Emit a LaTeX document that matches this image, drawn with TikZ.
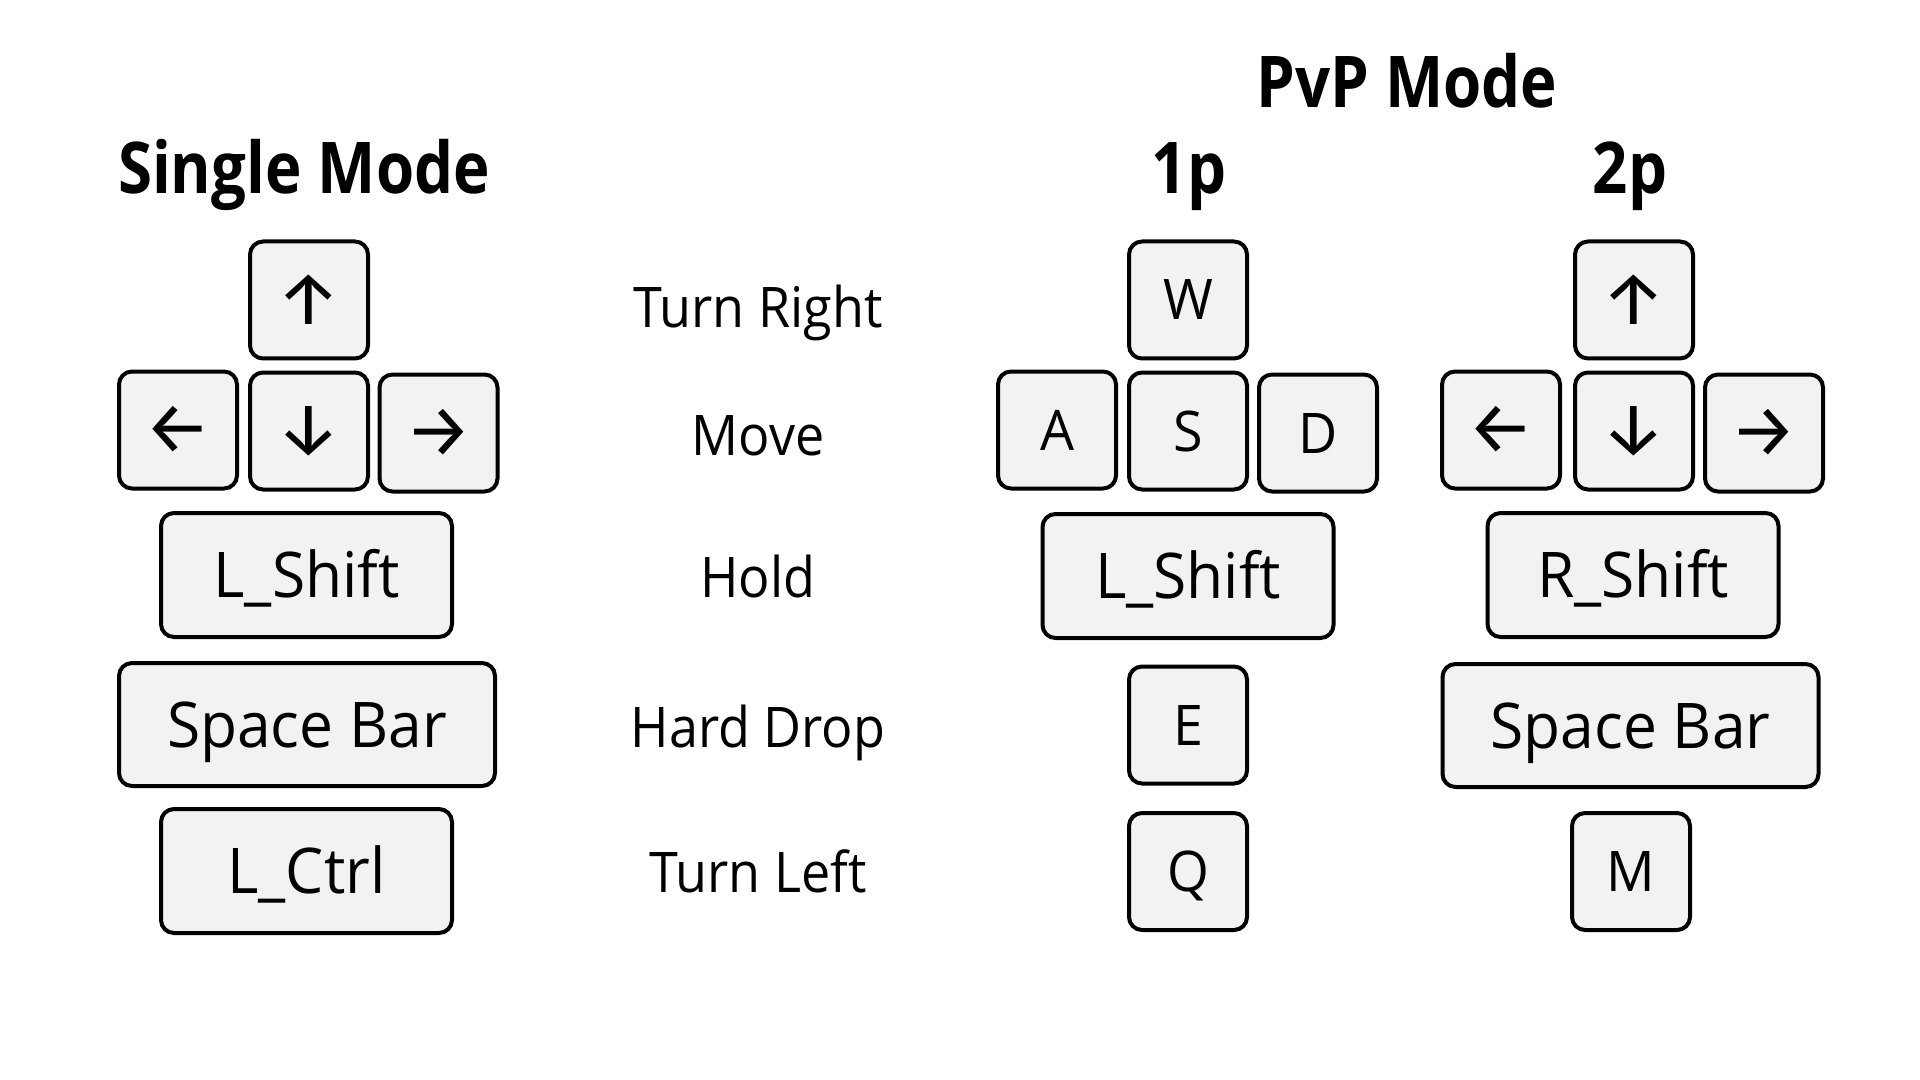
\documentclass[tikz,border=0pt]{standalone}
\usepackage{fontspec}
\setmainfont{Open Sans}
\newfontfamily\keyfont[FakeStretch=0.96]{Open Sans}
\newfontfamily\labelfont[FakeStretch=0.93]{Open Sans}
\newfontfamily\titlefont[FakeStretch=0.865]{Open Sans Bold}
\newfontfamily\arrowfont{Fira Sans}
\tikzset{
  x=0.5pt, y=-0.5pt,
  keycap/.style={draw=black, line width=2pt, fill=gray!10, rounded corners=6.5pt,
    inner sep=0pt, align=center, text height=22.5pt, text depth=0pt,
    font=\keyfont\fontsize{31.5}{38}\selectfont},
  sq/.style={keycap, minimum width=59pt, minimum height=58.5pt,
    text height=20pt, font=\keyfont\fontsize{28}{34}\selectfont},
  arr/.style={sq, text height=, text depth=, font=\arrowfont\fontsize{37}{42}\selectfont},
  wide/.style={keycap, minimum width=145.5pt, minimum height=62pt},
  bar/.style={keycap, minimum width=188pt, minimum height=61.5pt},
  title/.style={anchor=base, inner sep=0pt, font=\titlefont\fontsize{35.7}{42}\selectfont},
  action/.style={anchor=base, inner sep=0pt, font=\labelfont\fontsize{28}{34}\selectfont}
}
\begin{document}
\begin{tikzpicture}
\useasboundingbox[fill=white] (0,0) rectangle (1920,1080);
% titles
\node[title] (tsingle) at (304,194) {Single Mode};
\node[title] (tpvp) at (1407,108) {PvP Mode};
\node[title] (t1p) at (1189,194) {1p};
\node[title] (t2p) at (1630,194) {2p};
% single mode keys
\node[arr] (s-up) at (309,300) {↑};
\node[arr] (s-left) at (178,430) {←};
\node[arr] (s-down) at (309,431) {↓};
\node[arr] (s-right) at (438.5,433) {→};
\node[wide] (s-shift) at (306.5,575) {L\_Shift};
\node[bar] (s-space) at (307,724.5) {Space Bar};
\node[wide] (s-ctrl) at (306.5,871) {L\_Ctrl};
% actions
\node[action] (a-tr) at (758,328) {Turn Right};
\node[action] (a-mv) at (758,455) {Move};
\node[action] (a-hd) at (758,597) {Hold};
\node[action] (a-hdr) at (758,747) {Hard Drop};
\node[action] (a-tl) at (758,892) {Turn Left};
% 1p keys
\node[sq] (p1-w) at (1188,300) {W};
\node[sq] (p1-a) at (1057,430) {A};
\node[sq] (p1-s) at (1188,431) {S};
\node[sq] (p1-d) at (1318,433) {D};
\node[wide] (p1-shift) at (1188,576) {L\_Shift};
\node[sq] (p1-e) at (1188,725) {E};
\node[sq] (p1-q) at (1188,871.5) {Q};
% 2p keys
\node[arr] (p2-up) at (1634,300) {↑};
\node[arr] (p2-left) at (1501,430) {←};
\node[arr] (p2-down) at (1634,431) {↓};
\node[arr] (p2-right) at (1764,433) {→};
\node[wide] (p2-shift) at (1633,575) {R\_Shift};
\node[bar] (p2-space) at (1630.5,725.5) {Space Bar};
\node[sq] (p2-m) at (1631,871.5) {M};
\end{tikzpicture}
\end{document}
